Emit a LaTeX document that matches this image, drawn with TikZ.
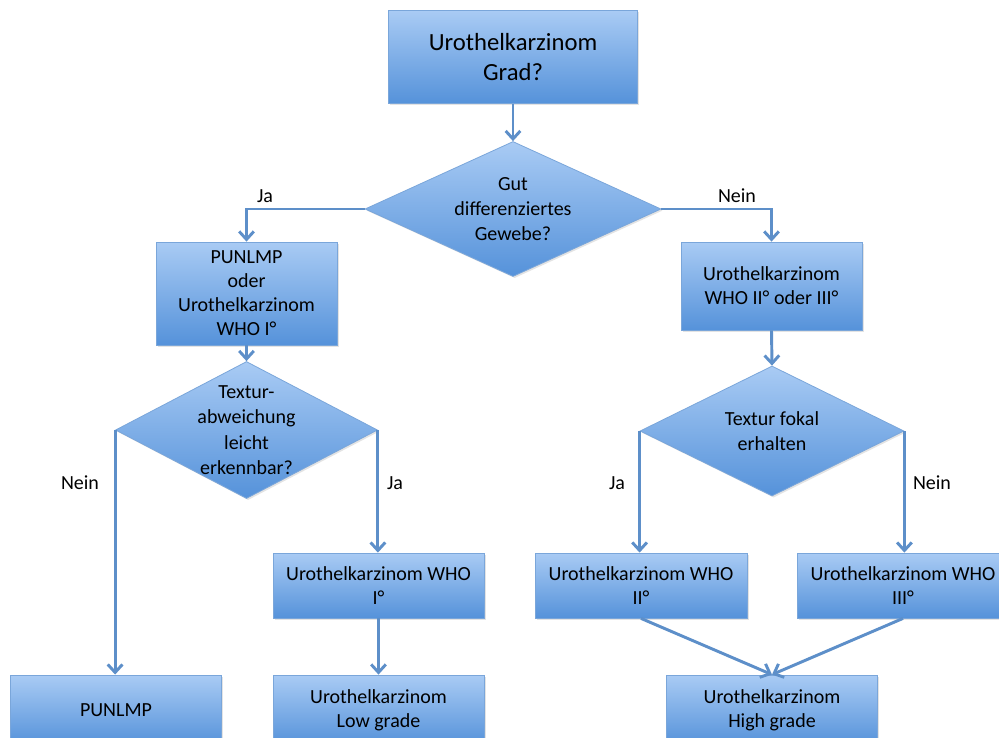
\documentclass[tikz,border=0pt]{standalone}
\usepackage{fontspec}
\setmainfont{Carlito}
\usetikzlibrary{shapes.geometric,arrows.meta,shadows}

\definecolor{boxtop}{HTML}{A9CBF4}
\definecolor{boxbot}{HTML}{5592DA}
\definecolor{boxline}{HTML}{7AA6DA}
\definecolor{arrowc}{HTML}{5D8FC9}

\tikzset{
  box/.style={rectangle, draw=boxline, line width=0.6pt, top color=boxtop, bottom color=boxbot,
    drop shadow={opacity=0.22, shadow xshift=1.2pt, shadow yshift=-1.2pt},
    align=center, font=\fontsize{15}{18}\selectfont, inner sep=2pt},
  dia/.style={diamond, draw=boxline, line width=0.6pt, top color=boxtop, bottom color=boxbot,
    drop shadow={opacity=0.22, shadow xshift=1.2pt, shadow yshift=-1.2pt},
    align=center, font=\fontsize{15}{19}\selectfont, inner sep=-30pt},
  lbl/.style={font=\fontsize{15}{18}\selectfont},
  arr/.style={draw=arrowc, line width=2.2pt, -{Straight Barb[length=6pt,width=11pt]}}
}

\begin{document}
\begin{tikzpicture}[x=0.75pt,y=-0.75pt]
   \clip (0,0) rectangle (999,738);
   \fill[white] (0,0) rectangle (999,738);

   % boxes and decisions
   \node[box, minimum width=186.75pt, minimum height=69.75pt, font=\fontsize{18.5}{22.5}\selectfont]
      (grad) at (513,57) {Urothelkarzinom\\Grad?};
   \node[dia, minimum width=222pt, minimum height=101.25pt] (gut) at (513,209)
      {Gut\\differenziertes\\Gewebe?};
   \node[box, minimum width=135.75pt, minimum height=77.25pt] (punoder) at (246.5,293.5)
      {PUNLMP\\oder\\Urothelkarzinom\\WHO I°};
   \node[box, minimum width=135.75pt, minimum height=66pt] (whoiiiii) at (771.5,286)
      {Urothelkarzinom\\WHO II° oder III°};
   \node[dia, minimum width=196.5pt, minimum height=102.75pt] (textur) at (246.5,430)
      {Textur-\\abweichung\\leicht\\erkennbar?};
   \node[dia, minimum width=198pt, minimum height=97.5pt] (fokal) at (772,431)
      {Textur fokal\\erhalten};
   \node[box, minimum width=158.25pt, minimum height=48.75pt] (whoi) at (378.5,585.5)
      {Urothelkarzinom WHO\\I°};
   \node[box, minimum width=159pt, minimum height=48.75pt] (whoii) at (641,585.5)
      {Urothelkarzinom WHO\\II°};
   \node[box, minimum width=159pt, minimum height=48.75pt] (whoiii) at (903,585.5)
      {Urothelkarzinom WHO\\III°};
   \node[box, minimum width=158.25pt, minimum height=52.5pt] (punlmp) at (116,710) {PUNLMP};
   \node[box, minimum width=158.25pt, minimum height=52.5pt] (low) at (378.5,710)
      {Urothelkarzinom\\Low grade};
   \node[box, minimum width=158.25pt, minimum height=52.5pt] (high) at (772,710)
      {Urothelkarzinom\\High grade};

   % connectors
   \draw[arr] (grad.south) -- (gut.north);
   \draw[arr] (gut.west) -| (punoder.north);
   \draw[arr] (gut.east) -| (whoiiiii.north);
   \draw[arr] (punoder.south) -- (textur.north);
   \draw[arr] (whoiiiii.south) -- (fokal.north);
   \draw[arr] (textur.west) -- (textur.west |- punlmp.north);
   \draw[arr] (textur.east) -- (textur.east |- whoi.north);
   \draw[arr] (fokal.west) -- (fokal.west |- whoii.north);
   \draw[arr] (fokal.east) -- (fokal.east |- whoiii.north);
   \draw[arr] (whoi.south) -- (low.north);
   \draw[arr] (whoii.south) -- (high.north);
   \draw[arr] (whoiii.south) -- (high.north);

   % branch labels
   \node[lbl] (ja1) at (265,196) {Ja};
   \node[lbl] (nein1) at (737,196) {Nein};
   \node[lbl] (nein2) at (80,483) {Nein};
   \node[lbl] (ja2) at (395,483) {Ja};
   \node[lbl] (ja3) at (617,483) {Ja};
   \node[lbl] (nein3) at (932,483) {Nein};
\end{tikzpicture}
\end{document}
